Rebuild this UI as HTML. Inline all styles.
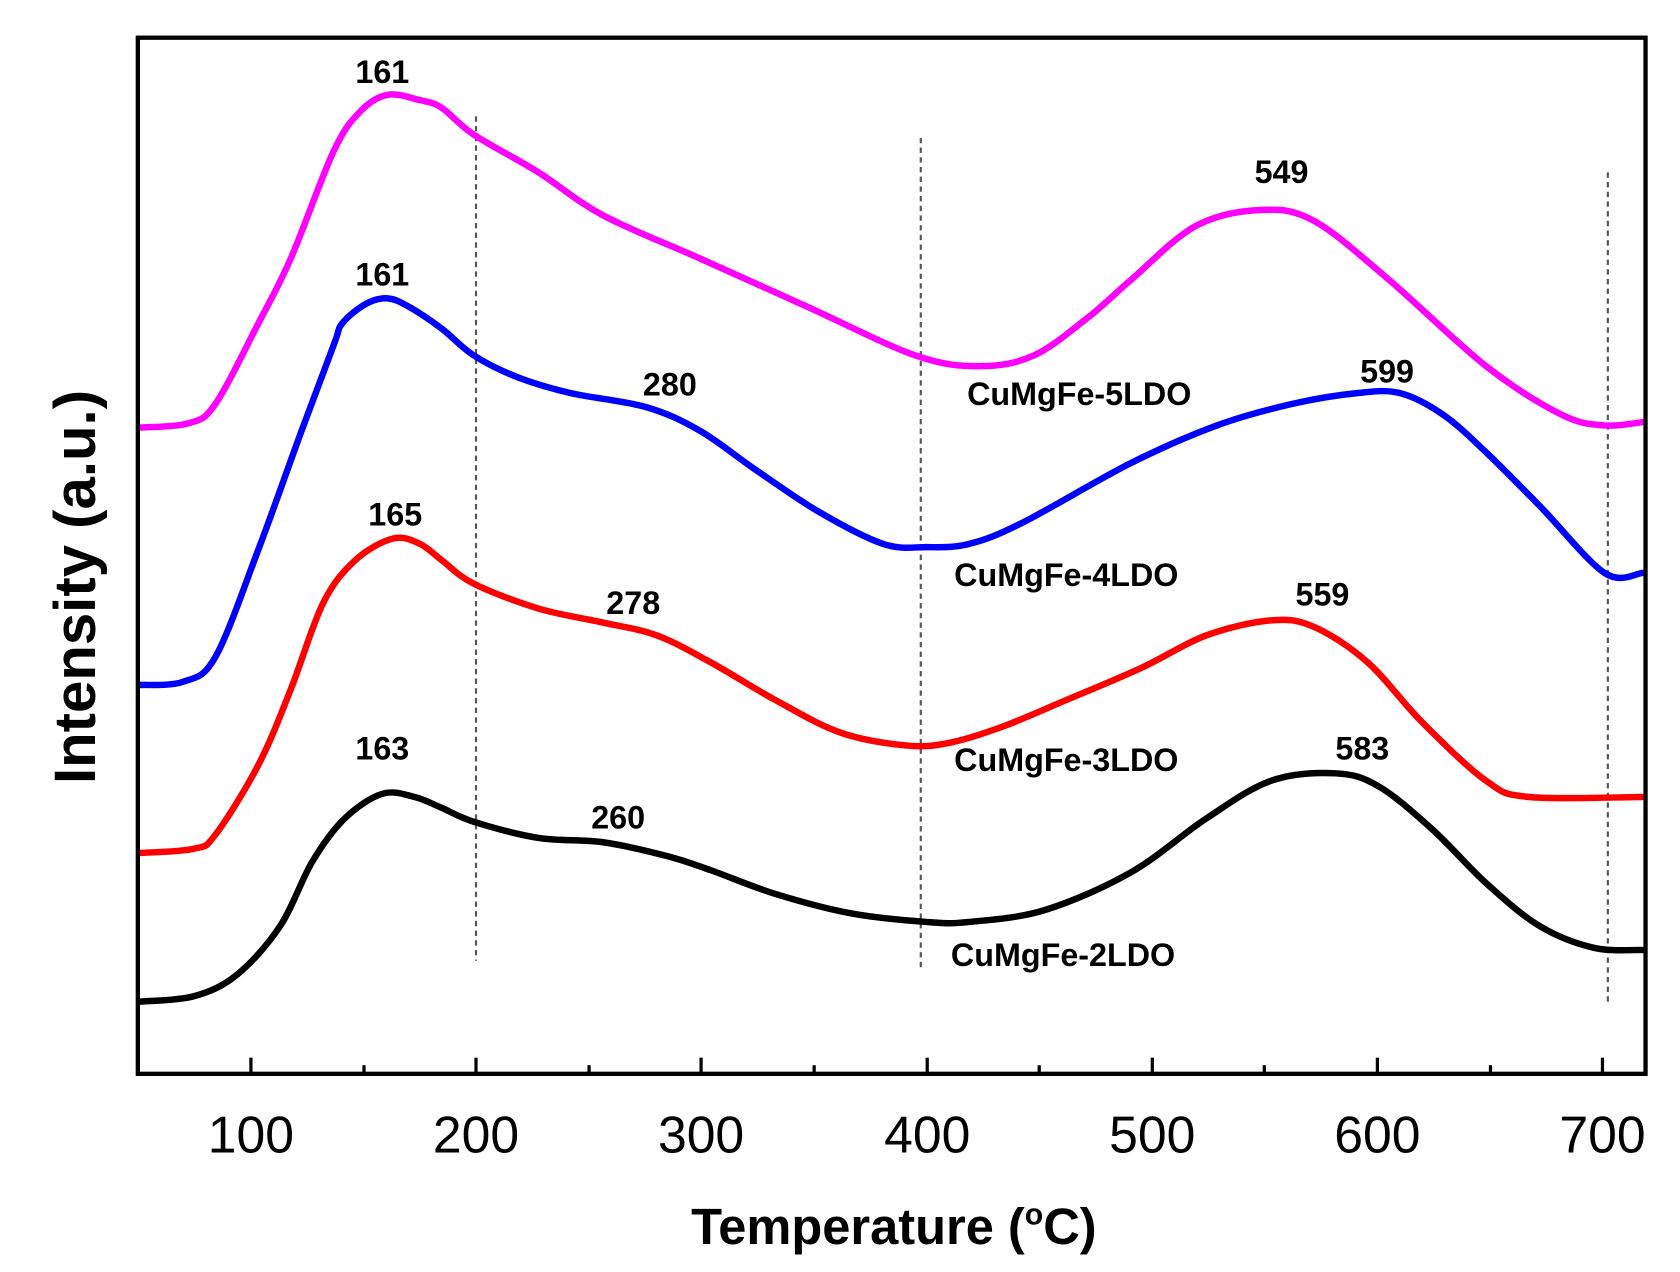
<!DOCTYPE html>
<html><head><style>html,body{margin:0;padding:0;background:#fff}svg{display:block}</style></head>
<body>
<svg id="s" width="1680" height="1272" viewBox="0 0 1560 1181" preserveAspectRatio="none" xmlns="http://www.w3.org/2000/svg" font-family="Liberation Sans, sans-serif">
<rect x="0" y="0" width="1560" height="1181" fill="#fff"/>
<g stroke="#555" stroke-width="2" stroke-dasharray="5,4">
<line x1="442" y1="108" x2="442" y2="892"/>
<line x1="855" y1="128" x2="855" y2="900"/>
<line x1="1493" y1="160" x2="1493" y2="932"/>
</g>
<g id="curves" fill="none" stroke-width="6" stroke-linejoin="round" stroke-linecap="round">
<polyline stroke="#ff00ff" points="130,397 175,393 200,375 240,300 270,240 310,140 335,103 360,88 390,93 410,100 440,125 500,160 560,200 650,240 750,285 850,330 910,340 960,330 1010,295 1050,260 1110,210 1170,195 1220,205 1290,260 1380,340 1450,385 1490,395 1525,392"/>
<polyline stroke="#0000ff" points="130,636 170,633 200,610 240,510 280,400 310,320 318,300 340,282 360,277 380,285 410,305 440,330 480,350 530,365 600,378 650,400 700,435 760,475 820,505 860,508 900,505 950,485 1050,430 1130,395 1200,375 1260,365 1300,365 1340,385 1380,420 1430,470 1490,532 1525,532"/>
<polyline stroke="#ff0000" points="130,792 180,788 200,775 240,710 270,640 300,560 330,520 365,500 390,505 410,520 440,542 500,565 560,578 610,590 660,615 720,650 780,680 840,692 880,690 930,675 990,650 1060,620 1120,590 1180,576 1220,582 1270,615 1320,670 1380,725 1420,740 1525,740"/>
<polyline stroke="#000000" points="130,930 180,925 220,905 260,860 290,800 320,760 355,737 385,740 410,750 440,763 500,778 560,782 620,795 660,808 720,830 790,848 860,856 900,856 970,845 1050,810 1120,760 1180,725 1240,718 1280,730 1330,770 1380,820 1430,860 1480,880 1525,882"/>
</g>
<rect x="128" y="35" width="1400" height="962" fill="none" stroke="#000" stroke-width="4"/>
<g stroke="#000" stroke-width="3">
<line x1="233" y1="997" x2="233" y2="982"/><line x1="442" y1="997" x2="442" y2="982"/><line x1="651" y1="997" x2="651" y2="982"/><line x1="861" y1="997" x2="861" y2="982"/><line x1="1070" y1="997" x2="1070" y2="982"/><line x1="1279" y1="997" x2="1279" y2="982"/><line x1="1488" y1="997" x2="1488" y2="982"/>
<line x1="338" y1="997" x2="338" y2="989"/><line x1="547" y1="997" x2="547" y2="989"/><line x1="756" y1="997" x2="756" y2="989"/><line x1="965" y1="997" x2="965" y2="989"/><line x1="1174" y1="997" x2="1174" y2="989"/><line x1="1384" y1="997" x2="1384" y2="989"/>
</g>
<g font-size="48" text-anchor="middle" fill="#000">
<text x="233" y="1070">100</text><text x="442" y="1070">200</text><text x="651" y="1070">300</text><text x="861" y="1070">400</text><text x="1070" y="1070">500</text><text x="1279" y="1070">600</text><text x="1488" y="1070">700</text>
</g>
<text x="830" y="1155" font-size="47" font-weight="bold" text-anchor="middle">Temperature (<tspan font-size="28" dy="-18">o</tspan><tspan dy="18">C)</tspan></text>
<text transform="translate(88,545) rotate(-90)" font-size="54" font-weight="bold" text-anchor="middle">Intensity (a.u.)</text>
<g font-size="30" font-weight="bold" text-anchor="middle" fill="#000">
<text x="355" y="77">161</text><text x="1190" y="170">549</text>
<text x="355" y="265">161</text><text x="622" y="367">280</text><text x="1288" y="355">599</text>
<text x="367" y="488">165</text><text x="588" y="570">278</text><text x="1228" y="562">559</text>
<text x="355" y="705">163</text><text x="574" y="769">260</text><text x="1265" y="705">583</text>
</g>
<g font-size="30" font-weight="bold" fill="#000">
<text x="898" y="376">CuMgFe-5LDO</text>
<text x="886" y="544">CuMgFe-4LDO</text>
<text x="886" y="716">CuMgFe-3LDO</text>
<text x="883" y="897">CuMgFe-2LDO</text>
</g>
</svg>
<script>
document.querySelectorAll('#curves polyline').forEach(function(pl){
  var p=pl.getAttribute('points').trim().split(/\s+/).map(function(s){return s.split(',').map(Number);});
  var d='M'+p[0][0]+','+p[0][1];
  for(var i=0;i<p.length-1;i++){
    var p0=p[i-1]||p[i],p1=p[i],p2=p[i+1],p3=p[i+2]||p2;
    var c1x=p1[0]+(p2[0]-p0[0])/6,c1y=p1[1]+(p2[1]-p0[1])/6;
    var c2x=p2[0]-(p3[0]-p1[0])/6,c2y=p2[1]-(p3[1]-p1[1])/6;
    d+=' C'+c1x+','+c1y+' '+c2x+','+c2y+' '+p2[0]+','+p2[1];
  }
  var path=document.createElementNS('http://www.w3.org/2000/svg','path');
  path.setAttribute('d',d);path.setAttribute('stroke',pl.getAttribute('stroke'));
  pl.parentNode.replaceChild(path,pl);
});
</script>
</body></html>
